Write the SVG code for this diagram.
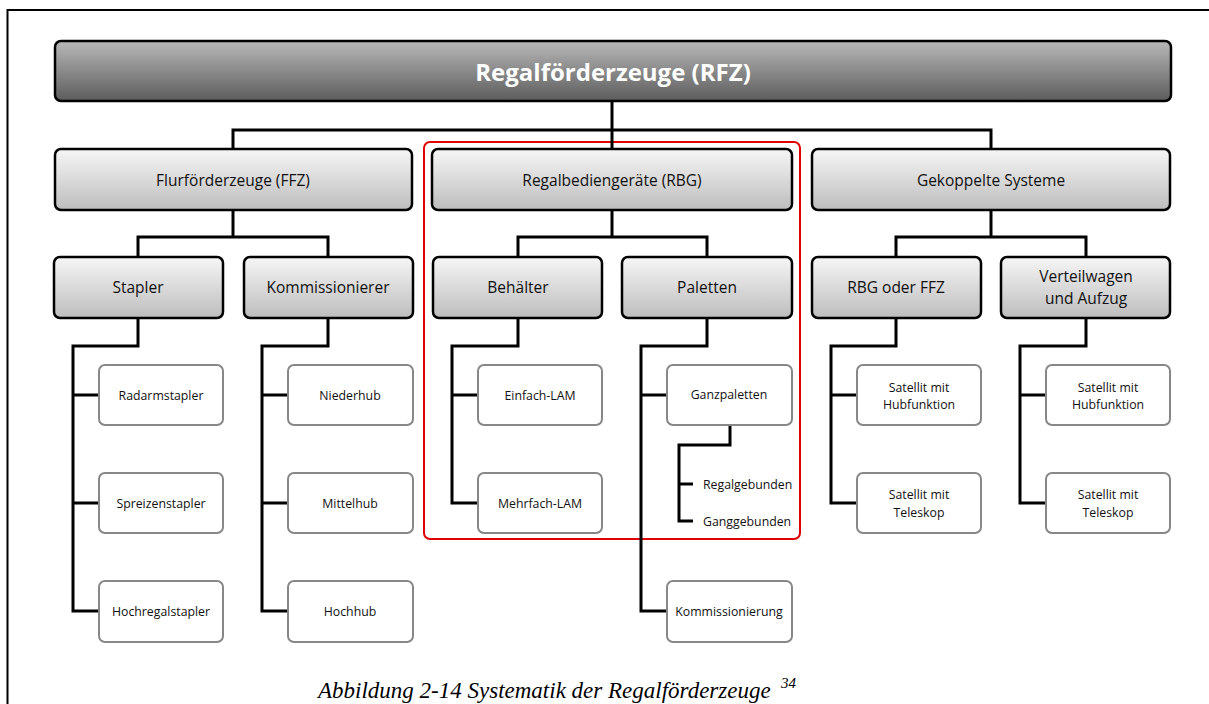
<svg xmlns="http://www.w3.org/2000/svg" width="1209" height="704" viewBox="0 0 1209 704">
  <defs>
    <linearGradient id="gTop" x1="0" y1="0" x2="0" y2="1">
      <stop offset="0" stop-color="#b8b8b8"/>
      <stop offset="1" stop-color="#5c5c5c"/>
    </linearGradient>
    <linearGradient id="gMid" x1="0" y1="0" x2="0" y2="1">
      <stop offset="0" stop-color="#f6f6f6"/>
      <stop offset="1" stop-color="#bdbdbd"/>
    </linearGradient>
    <style>
      .top { fill: url(#gTop); stroke: #000; stroke-width: 2.5; }
      .mid { fill: url(#gMid); stroke: #000; stroke-width: 2.5; }
      .leaf { fill: #fff; stroke: #878787; stroke-width: 2; }
      .wire { fill: none; stroke: #000; stroke-width: 3; }
      text { font-family: "Open Sans", "Noto Sans", sans-serif; fill: #111; text-anchor: middle; dominant-baseline: central; }
      .t1 { font-size: 24px; font-weight: bold; fill: #fff; }
      .t2 { font-size: 15.5px; }
      .t3 { font-size: 15.5px; }
      .t4 { font-size: 12.3px; }
      .cap { font-family: "Liberation Serif", "DejaVu Serif", serif; font-style: italic; font-size: 23px; fill: #000; text-anchor: start; dominant-baseline: auto; }
      .sup { font-family: "Liberation Serif", "DejaVu Serif", serif; font-style: italic; font-size: 15px; fill: #000; text-anchor: start; dominant-baseline: auto; }
    </style>
  </defs>

  <rect width="1209" height="704" fill="#fff"/>
  <!-- page frame -->
  <path d="M7.5 704 V10 H1209" fill="none" stroke="#000" stroke-width="2"/>

  <!-- highlight frame around the RBG branch -->
  <rect id="highlight" x="424" y="142" width="376" height="397" rx="6" fill="none" stroke="#e00000" stroke-width="2"/>

  <g id="connectors" class="wire">
    <path d="M612 101 V149"/>
    <path d="M233 149 V130 H991 V149"/>
    <path d="M233 210 V237"/>
    <path d="M138 257 V237 H328 V257"/>
    <path d="M612 210 V237"/>
    <path d="M518 257 V237 H707 V257"/>
    <path d="M991 210 V237"/>
    <path d="M896 257 V237 H1086 V257"/>

    <path d="M138 318 V346 H73 V611 H99 M73 395 H99 M73 503 H99"/>
    <path d="M328 318 V346 H262 V611 H288 M262 395 H288 M262 503 H288"/>
    <path d="M518 318 V346 H452 V503 H478 M452 395 H478"/>
    <path d="M707 318 V346 H641 V611 H667 M641 395 H667"/>
    <path d="M730 425 V445 H679 V521 H693 M679 484 H693"/>
    <path d="M896 318 V346 H831 V503 H857 M831 395 H857"/>
    <path d="M1086 318 V346 H1020 V503 H1046 M1020 395 H1046"/>
  </g>

  <g id="rfz">
    <rect class="top" x="55" y="41" width="1116" height="60" rx="6"/>
    <text class="t1" x="613" y="71">Regalförderzeuge (RFZ)</text>
  </g>

  <g id="ffz">
    <rect class="mid" x="55" y="149" width="357" height="61" rx="6"/>
    <text class="t2" x="233" y="180">Flurförderzeuge (FFZ)</text>
  </g>
  <g id="rbg">
    <rect class="mid" x="432" y="149" width="360" height="61" rx="6"/>
    <text class="t2" x="612" y="180">Regalbediengeräte (RBG)</text>
  </g>
  <g id="gekoppelt">
    <rect class="mid" x="812" y="149" width="358" height="61" rx="6"/>
    <text class="t2" x="991" y="180">Gekoppelte Systeme</text>
  </g>

  <g id="stapler">
    <rect class="mid" x="54" y="257" width="169" height="61" rx="6"/>
    <text class="t3" x="138" y="287">Stapler</text>
  </g>
  <g id="kommissionierer">
    <rect class="mid" x="244" y="257" width="169" height="61" rx="6"/>
    <text class="t3" x="328" y="287">Kommissionierer</text>
  </g>
  <g id="behaelter">
    <rect class="mid" x="433" y="257" width="169" height="61" rx="6"/>
    <text class="t3" x="518" y="287">Behälter</text>
  </g>
  <g id="paletten">
    <rect class="mid" x="622" y="257" width="170" height="61" rx="6"/>
    <text class="t3" x="707" y="287">Paletten</text>
  </g>
  <g id="rbg-ffz">
    <rect class="mid" x="812" y="257" width="169" height="61" rx="6"/>
    <text class="t3" x="896" y="287">RBG oder FFZ</text>
  </g>
  <g id="verteilwagen">
    <rect class="mid" x="1001" y="257" width="169" height="61" rx="6"/>
    <text class="t3" x="1086" y="276">Verteilwagen</text>
    <text class="t3" x="1086" y="298">und Aufzug</text>
  </g>

  <g id="radarmstapler">
    <rect class="leaf" x="99" y="365" width="124" height="60" rx="6"/>
    <text class="t4" x="161" y="395">Radarmstapler</text>
  </g>
  <g id="spreizenstapler">
    <rect class="leaf" x="99" y="473" width="124" height="60" rx="6"/>
    <text class="t4" x="161" y="503">Spreizenstapler</text>
  </g>
  <g id="hochregalstapler">
    <rect class="leaf" x="99" y="581" width="124" height="61" rx="6"/>
    <text class="t4" x="161" y="611">Hochregalstapler</text>
  </g>

  <g id="niederhub">
    <rect class="leaf" x="288" y="365" width="125" height="60" rx="6"/>
    <text class="t4" x="350" y="395">Niederhub</text>
  </g>
  <g id="mittelhub">
    <rect class="leaf" x="288" y="473" width="125" height="60" rx="6"/>
    <text class="t4" x="350" y="503">Mittelhub</text>
  </g>
  <g id="hochhub">
    <rect class="leaf" x="288" y="581" width="125" height="61" rx="6"/>
    <text class="t4" x="350" y="611">Hochhub</text>
  </g>

  <g id="einfach-lam">
    <rect class="leaf" x="478" y="365" width="124" height="60" rx="6"/>
    <text class="t4" x="540" y="395">Einfach-LAM</text>
  </g>
  <g id="mehrfach-lam">
    <rect class="leaf" x="478" y="473" width="124" height="60" rx="6"/>
    <text class="t4" x="540" y="503">Mehrfach-LAM</text>
  </g>

  <g id="ganzpaletten">
    <rect class="leaf" x="667" y="365" width="125" height="60" rx="6"/>
    <text class="t4" x="729" y="394">Ganzpaletten</text>
  </g>
  <g id="regalgebunden">
    <text class="t4" x="703" y="484" style="text-anchor:start">Regalgebunden</text>
  </g>
  <g id="ganggebunden">
    <text class="t4" x="703" y="521" style="text-anchor:start">Ganggebunden</text>
  </g>
  <g id="kommissionierung">
    <rect class="leaf" x="667" y="581" width="125" height="61" rx="6"/>
    <text class="t4" x="729" y="611">Kommissionierung</text>
  </g>

  <g id="sat-hub-1">
    <rect class="leaf" x="857" y="365" width="124" height="60" rx="6"/>
    <text class="t4" x="919" y="387">Satellit mit</text>
    <text class="t4" x="919" y="404">Hubfunktion</text>
  </g>
  <g id="sat-tele-1">
    <rect class="leaf" x="857" y="473" width="124" height="60" rx="6"/>
    <text class="t4" x="919" y="494">Satellit mit</text>
    <text class="t4" x="919" y="512">Teleskop</text>
  </g>
  <g id="sat-hub-2">
    <rect class="leaf" x="1046" y="365" width="124" height="60" rx="6"/>
    <text class="t4" x="1108" y="387">Satellit mit</text>
    <text class="t4" x="1108" y="404">Hubfunktion</text>
  </g>
  <g id="sat-tele-2">
    <rect class="leaf" x="1046" y="473" width="124" height="60" rx="6"/>
    <text class="t4" x="1108" y="494">Satellit mit</text>
    <text class="t4" x="1108" y="512">Teleskop</text>
  </g>

  <!-- figure caption with footnote mark -->
  <text class="cap" x="318" y="698">Abbildung 2-14 Systematik der Regalförderzeuge</text>
  <text class="sup" x="781" y="688">34</text>
</svg>
